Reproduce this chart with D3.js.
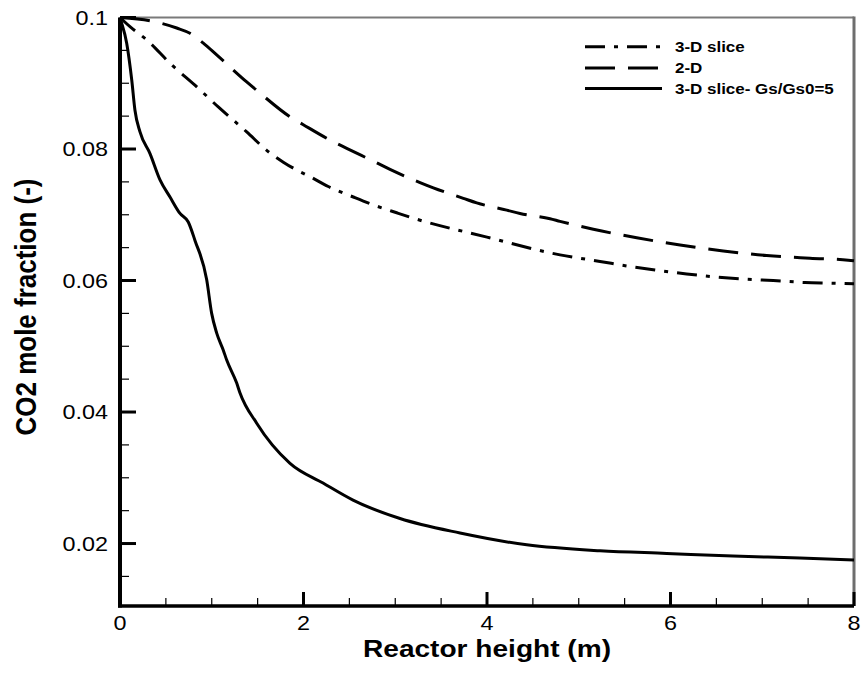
<!DOCTYPE html>
<html>
<head>
<meta charset="utf-8">
<script src="https://cdn.jsdelivr.net/npm/d3@7"></script>
<style>
  html, body { margin: 0; padding: 0; background: #fff; }
  svg { display: block; }
</style>
</head>
<body>
<svg id="chart" width="861" height="673"></svg>
<script>
// Reactor height (m)
const heightSlice = [0, 0.109, 0.291, 0.563, 0.817, 1.071, 1.381, 1.599, 1.780, 1.926, 2.071, 2.270, 2.543, 2.761, 3.016, 3.215, 4.000, 4.796, 5.232, 5.577, 5.831, 6.176, 6.521, 6.812, 7.120, 7.466, 7.738, 8.0];
// CO2 mole fraction, 3-D slice
const co2Slice = [0.1, 0.0986, 0.0966, 0.0928, 0.0897, 0.0864, 0.0826, 0.0798, 0.0780, 0.0768, 0.0758, 0.0743, 0.0727, 0.0715, 0.0703, 0.0694, 0.0666, 0.0639, 0.0629, 0.0621, 0.0616, 0.0610, 0.0605, 0.0602, 0.0600, 0.0597, 0.0596, 0.0595];

const height2D = [0, 0.327, 0.618, 0.763, 0.908, 1.054, 1.381, 1.526, 1.853, 1.998, 2.325, 2.471, 2.798, 2.943, 3.270, 3.415, 3.742, 3.888, 4.215, 4.360, 4.687, 4.796, 5.159, 5.632, 6.104, 6.575, 7.048, 7.520, 7.938, 8.0];
// CO2 mole fraction, 2-D
const co2_2D = [0.1, 0.0995, 0.0984, 0.0976, 0.0961, 0.0943, 0.0902, 0.0885, 0.0849, 0.0837, 0.0811, 0.0801, 0.0779, 0.0769, 0.0749, 0.0741, 0.0725, 0.0718, 0.0707, 0.0702, 0.0694, 0.0690, 0.0678, 0.0665, 0.0654, 0.0645, 0.0638, 0.0634, 0.0631, 0.0630];

const heightGs = [0, 0.008, 0.073, 0.128, 0.163, 0.218, 0.327, 0.436, 0.545, 0.654, 0.744, 0.817, 0.945, 0.999, 1.054, 1.126, 1.163, 1.272, 1.308, 1.490, 1.853, 2.213, 2.540, 3.052, 3.706, 4.433, 5.232, 5.959, 6.681, 7.411, 8.0];
// CO2 mole fraction, 3-D slice with Gs/Gs0=5
const co2Gs = [0.1, 0.0996, 0.0961, 0.0905, 0.0859, 0.0826, 0.0793, 0.0753, 0.0727, 0.0702, 0.0689, 0.0661, 0.0601, 0.0550, 0.0520, 0.0494, 0.0479, 0.0444, 0.0429, 0.0383, 0.0322, 0.0292, 0.0266, 0.0238, 0.0216, 0.0198, 0.0189, 0.0185, 0.0181, 0.0178, 0.0175];

const seriesNames = ["3-D slice", "2-D", "3-D slice- Gs/Gs0=5"];
const seriesDash = ["20,9,4,9", "30,13", null];

const xMajorTicks = [0, 2, 4, 6, 8];
const xTickLabels = ["0", "2", "4", "6", "8"];
const yMajorTicks = [0.02, 0.04, 0.06, 0.08, 0.1];
const yTickLabels = ["0.02", "0.04", "0.06", "0.08", "0.1"];

const series = [
  { name: seriesNames[0], xs: heightSlice, ys: co2Slice, dash: seriesDash[0] },
  { name: seriesNames[1], xs: height2D, ys: co2_2D, dash: seriesDash[1] },
  { name: seriesNames[2], xs: heightGs, ys: co2Gs, dash: seriesDash[2] }
];

const svg = d3.select("#chart");
const plotLeft = 120, plotRight = 854, plotTop = 17.5, plotBottom = 606;
const stretch = 1.17;  // wide lettering
const font = "Liberation Sans, Arial, sans-serif";

const x = d3.scaleLinear().domain([0, 8]).range([plotLeft, plotRight]);
const y = d3.scaleLinear().domain([0.0105, 0.1]).range([plotBottom, plotTop]);

// frame: grey top and right edges
svg.append("line").attr("x1", plotLeft).attr("x2", plotRight).attr("y1", plotTop).attr("y2", plotTop)
  .attr("stroke", "#7a7a7a").attr("stroke-width", 2);
svg.append("line").attr("x1", plotRight).attr("x2", plotRight).attr("y1", plotTop - 1).attr("y2", plotBottom)
  .attr("stroke", "#6e6e6e").attr("stroke-width", 3);

// curves
const line = d3.line().x(d => x(d[0])).y(d => y(d[1])).curve(d3.curveMonotoneX);
series.forEach(s => {
  const pts = s.xs.map((v, i) => [v, s.ys[i]]);
  svg.append("path").datum(pts)
    .attr("d", line)
    .attr("fill", "none")
    .attr("stroke", "#000")
    .attr("stroke-width", 3)
    .attr("stroke-dasharray", s.dash)
    .attr("stroke-linejoin", "round");
});

// inward tick marks
const xMinor = d3.range(0.5, 8, 0.5).filter(v => !xMajorTicks.includes(v));
const yMinor = d3.range(0.015, 0.1, 0.005).filter(v => !yMajorTicks.some(t => Math.abs(t - v) < 1e-9));
const ticks = svg.append("g").attr("stroke", "#000");
ticks.selectAll(".xminor").data(xMinor).join("line").attr("class", "xminor")
  .attr("x1", d => x(d)).attr("x2", d => x(d))
  .attr("y1", plotBottom).attr("y2", plotBottom - 8).attr("stroke-width", 1.2);
ticks.selectAll(".xmajor").data(xMajorTicks).join("line").attr("class", "xmajor")
  .attr("x1", d => x(d)).attr("x2", d => x(d))
  .attr("y1", plotBottom).attr("y2", plotBottom - 14).attr("stroke-width", 3);
ticks.selectAll(".yminor").data(yMinor).join("line").attr("class", "yminor")
  .attr("x1", plotLeft).attr("x2", plotLeft + 9)
  .attr("y1", d => y(d)).attr("y2", d => y(d)).attr("stroke-width", 1.2);
ticks.selectAll(".ymajor").data(yMajorTicks).join("line").attr("class", "ymajor")
  .attr("x1", plotLeft).attr("x2", plotLeft + 16)
  .attr("y1", d => y(d)).attr("y2", d => y(d)).attr("stroke-width", 3);

// tick labels
svg.append("g").selectAll("text").data(xMajorTicks).join("text")
  .attr("transform", d => `translate(${x(d)},630) scale(${stretch},1)`)
  .attr("text-anchor", "middle")
  .attr("font-family", font).attr("font-size", 20).attr("fill", "#000")
  .text((d, i) => xTickLabels[i]);
svg.append("g").selectAll("text").data(yMajorTicks).join("text")
  .attr("transform", d => `translate(108,${y(d)}) scale(${stretch},1)`)
  .attr("text-anchor", "end").attr("dy", "0.36em")
  .attr("font-family", font).attr("font-size", 20).attr("fill", "#000")
  .text((d, i) => yTickLabels[i]);

// black left and bottom axis lines
svg.append("line").attr("x1", plotLeft).attr("x2", plotLeft).attr("y1", plotTop).attr("y2", plotBottom + 1.5)
  .attr("stroke", "#000").attr("stroke-width", 4);
svg.append("line").attr("x1", plotLeft - 2).attr("x2", plotRight).attr("y1", plotBottom).attr("y2", plotBottom)
  .attr("stroke", "#000").attr("stroke-width", 3.5);

// axis titles
svg.append("text")
  .attr("transform", `translate(${(plotLeft + plotRight) / 2},657) scale(${stretch},1)`)
  .attr("text-anchor", "middle")
  .attr("font-family", font)
  .attr("font-weight", "bold").attr("font-size", 24)
  .text("Reactor height (m)");
svg.append("text")
  .attr("transform", `translate(36,307) scale(${stretch},1) rotate(-90)`)
  .attr("text-anchor", "middle")
  .attr("font-family", font)
  .attr("font-weight", "bold").attr("font-size", 26)
  .text("CO2 mole fraction (-)");

// legend
const legY = [46.7, 68, 88.5];
const leg = svg.append("g");
series.forEach((s, i) => {
  leg.append("line")
    .attr("x1", 585).attr("x2", 662)
    .attr("y1", legY[i]).attr("y2", legY[i])
    .attr("stroke", "#000").attr("stroke-width", 3)
    .attr("stroke-dasharray", s.dash);
  leg.append("text")
    .attr("transform", `translate(675,${legY[i] + 5}) scale(${stretch},1)`)
    .attr("font-family", font)
    .attr("font-weight", "bold").attr("font-size", 14.5)
    .text(s.name);
});
</script>
</body>
</html>
